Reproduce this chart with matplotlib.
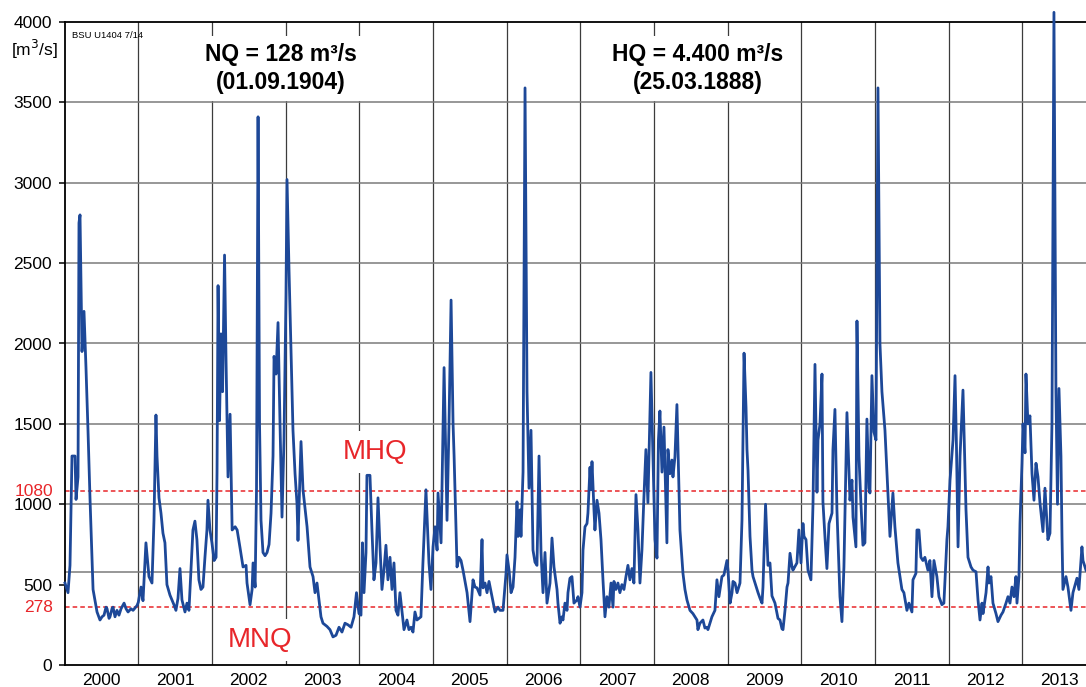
import matplotlib.pyplot as plt

plt.rcParams['font.family'] = ['Liberation Sans', 'DejaVu Sans']

# ---------------------------------------------------------------------------
# Data: discharge in m3/s, time in decimal years
# ---------------------------------------------------------------------------

years = list(range(2000, 2014))

t_2000 = [2000.005, 2000.046, 2000.073, 2000.100, 2000.141, 2000.155, 2000.182, 2000.195,
          2000.209, 2000.236, 2000.263, 2000.290, 2000.318, 2000.345, 2000.386, 2000.413,
          2000.440, 2000.480, 2000.508, 2000.535, 2000.562, 2000.576, 2000.603, 2000.616,
          2000.643, 2000.657, 2000.684, 2000.711, 2000.738, 2000.766, 2000.807, 2000.834,
          2000.861, 2000.901, 2000.929, 2000.956, 2000.983]
q_2000 = [510, 450, 620, 1300, 1300, 1030, 1170, 2750,
          2800, 1950, 2200, 1850, 1450, 1030, 470, 400,
          330, 280, 300, 310, 360, 350, 290, 300,
          350, 360, 300, 340, 310, 350, 385, 350,
          330, 350, 340, 355, 370]

t_2001 = [2001.000, 2001.037, 2001.064, 2001.104, 2001.145, 2001.186, 2001.213, 2001.240,
          2001.254, 2001.281, 2001.308, 2001.335, 2001.362, 2001.389, 2001.430, 2001.457,
          2001.484, 2001.511, 2001.539, 2001.566, 2001.593, 2001.634, 2001.661, 2001.688,
          2001.715, 2001.742, 2001.769, 2001.796, 2001.823, 2001.851, 2001.878, 2001.905,
          2001.932, 2001.946, 2001.973]
q_2001 = [390, 485, 400, 760, 550, 510, 900, 1555,
          1300, 1040, 945, 820, 760, 500, 435, 405,
          375, 340, 415, 600, 405, 330, 385, 340,
          590, 840, 895, 780, 530, 470, 485, 670,
          840, 1025, 840]

t_2002 = [2002.000, 2002.029, 2002.056, 2002.069, 2002.083, 2002.103, 2002.123, 2002.144,
          2002.171, 2002.191, 2002.218, 2002.246, 2002.274, 2002.315, 2002.342, 2002.381,
          2002.422, 2002.463, 2002.476, 2002.517, 2002.545, 2002.558, 2002.586, 2002.605,
          2002.626, 2002.646, 2002.666, 2002.693, 2002.721, 2002.748, 2002.775, 2002.802,
          2002.829, 2002.843, 2002.870, 2002.897, 2002.924, 2002.951, 2002.978]
q_2002 = [760, 650, 670, 1200, 2360, 1520, 2060, 1700,
          2550, 1900, 1170, 1560, 840, 860, 840, 730,
          610, 620, 510, 375, 470, 635, 485, 1100,
          3410, 1500, 900, 700, 680, 700, 750, 945,
          1300, 1920, 1810, 2130, 1500, 920, 1400]

t_2003 = [2003.005, 2003.019, 2003.046, 2003.073, 2003.100, 2003.128, 2003.155, 2003.168,
          2003.209, 2003.236, 2003.291, 2003.331, 2003.372, 2003.399, 2003.426, 2003.453,
          2003.480, 2003.507, 2003.562, 2003.602, 2003.643, 2003.684, 2003.725, 2003.765,
          2003.806, 2003.847, 2003.888, 2003.928, 2003.962, 2003.996]
q_2003 = [2300, 3020, 2460, 1950, 1460, 1190, 1000, 775,
          1390, 1090, 860, 610, 550, 450, 510, 405,
          300, 260, 240, 220, 175, 185, 235, 205,
          260, 250, 235, 300, 450, 320]

t_2004 = [2004.023, 2004.043, 2004.064, 2004.091, 2004.104, 2004.145, 2004.172, 2004.199,
          2004.227, 2004.254, 2004.281, 2004.308, 2004.335, 2004.362, 2004.389, 2004.417,
          2004.444, 2004.471, 2004.498, 2004.525, 2004.552, 2004.579, 2004.607, 2004.647,
          2004.674, 2004.702, 2004.729, 2004.756, 2004.783, 2004.810, 2004.837, 2004.864,
          2004.905, 2004.946, 2004.973]
q_2004 = [310, 760, 450, 700, 1180, 1180, 840, 530,
          635, 1040, 735, 470, 590, 745, 530, 670,
          470, 635, 340, 310, 450, 340, 220, 280,
          220, 235, 205, 330, 280, 290, 300, 635,
          1090, 635, 470]

t_2005 = [2005.001, 2005.028, 2005.056, 2005.069, 2005.096, 2005.110, 2005.151, 2005.191,
          2005.218, 2005.246, 2005.273, 2005.287, 2005.327, 2005.354, 2005.381, 2005.408,
          2005.463, 2005.503, 2005.544, 2005.571, 2005.598, 2005.639, 2005.666, 2005.680,
          2005.707, 2005.734, 2005.761, 2005.802, 2005.843, 2005.883, 2005.910, 2005.951,
          2005.992]
q_2005 = [735, 860, 715, 1070, 860, 760, 1850, 900,
          1500, 2270, 1500, 1300, 610, 670, 650, 590,
          450, 270, 530, 485, 480, 435, 780, 480,
          510, 450, 520, 425, 330, 360, 340, 340,
          570]

t_2006 = [2006.005, 2006.033, 2006.060, 2006.087, 2006.114, 2006.141, 2006.155, 2006.182,
          2006.195, 2006.223, 2006.250, 2006.277, 2006.304, 2006.331, 2006.358, 2006.385,
          2006.412, 2006.440, 2006.467, 2006.494, 2006.521, 2006.548, 2006.589, 2006.616,
          2006.643, 2006.684, 2006.697, 2006.725, 2006.752, 2006.765, 2006.792, 2006.820,
          2006.833, 2006.860, 2006.887, 2006.914, 2006.955, 2006.969, 2006.996]
q_2006 = [685, 590, 450, 485, 670, 1015, 800, 965,
          800, 1200, 3590, 1700, 1100, 1460, 715, 640,
          620, 1300, 700, 450, 700, 385, 510, 790,
          610, 470, 385, 260, 300, 280, 385, 340,
          450, 540, 550, 385, 405, 425, 360]

t_2007 = [2007.023, 2007.037, 2007.064, 2007.091, 2007.104, 2007.132, 2007.145, 2007.159,
          2007.186, 2007.199, 2007.227, 2007.254, 2007.281, 2007.308, 2007.335, 2007.362,
          2007.389, 2007.417, 2007.444, 2007.457, 2007.484, 2007.511, 2007.538, 2007.565,
          2007.593, 2007.620, 2007.647, 2007.674, 2007.701, 2007.728, 2007.756, 2007.783,
          2007.810, 2007.837, 2007.864, 2007.891, 2007.918, 2007.959, 2007.986]
q_2007 = [450, 715, 860, 880, 945, 1230, 1090, 1265,
          965, 840, 1025, 945, 780, 530, 300, 425,
          360, 510, 360, 520, 470, 510, 450, 500,
          470, 550, 620, 530, 600, 510, 1060, 840,
          510, 715, 1045, 1340, 1010, 1820, 1300]

t_2008 = [2008.014, 2008.041, 2008.061, 2008.081, 2008.109, 2008.136, 2008.176, 2008.190,
          2008.217, 2008.244, 2008.258, 2008.285, 2008.312, 2008.353, 2008.394, 2008.421,
          2008.448, 2008.489, 2008.529, 2008.584, 2008.597, 2008.624, 2008.665, 2008.692,
          2008.719, 2008.733, 2008.787, 2008.828, 2008.855, 2008.882, 2008.923, 2008.950,
          2008.991]
q_2008 = [780, 665, 1400, 1580, 1200, 1480, 760, 1340,
          1190, 1275, 1170, 1295, 1620, 840, 570, 470,
          405, 340, 320, 280, 220, 260, 280, 230,
          235, 220, 300, 340, 530, 425, 550, 560,
          650]

t_2009 = [2009.005, 2009.033, 2009.060, 2009.073, 2009.100, 2009.128, 2009.168, 2009.195,
          2009.223, 2009.250, 2009.263, 2009.277, 2009.304, 2009.331, 2009.345, 2009.372,
          2009.399, 2009.413, 2009.440, 2009.467, 2009.480, 2009.515, 2009.548, 2009.575,
          2009.602, 2009.643, 2009.684, 2009.711, 2009.738, 2009.752, 2009.779, 2009.806,
          2009.820, 2009.847, 2009.874, 2009.887, 2009.941, 2009.968, 2009.996]
q_2009 = [590, 385, 450, 520, 510, 450, 510, 900,
          1940, 1600, 1340, 1210, 800, 590, 550, 510,
          470, 450, 415, 385, 485, 1000, 620, 635,
          430, 385, 290, 280, 225, 220, 340, 485,
          510, 695, 610, 590, 635, 840, 635]

t_2010 = [2010.023, 2010.037, 2010.064, 2010.091, 2010.131, 2010.159, 2010.186, 2010.213,
          2010.227, 2010.254, 2010.281, 2010.294, 2010.321, 2010.348, 2010.376, 2010.417,
          2010.430, 2010.457, 2010.484, 2010.525, 2010.552, 2010.579, 2010.620, 2010.661,
          2010.688, 2010.702, 2010.742, 2010.756, 2010.783, 2010.810, 2010.837, 2010.864,
          2010.891, 2010.918, 2010.932, 2010.959, 2010.986]
q_2010 = [880, 800, 780, 590, 530, 1000, 1870, 1075,
          1400, 1500, 1810, 1015, 800, 600, 880, 945,
          1340, 1590, 965, 425, 270, 610, 1570, 1025,
          1150, 920, 735, 2140, 1300, 1000, 745, 760,
          1530, 1100, 1070, 1800, 1450]

t_2011 = [2011.014, 2011.041, 2011.068, 2011.095, 2011.136, 2011.176, 2011.204, 2011.244,
          2011.271, 2011.312, 2011.366, 2011.393, 2011.434, 2011.461, 2011.502, 2011.516,
          2011.556, 2011.570, 2011.597, 2011.624, 2011.651, 2011.678, 2011.719, 2011.746,
          2011.774, 2011.801, 2011.841, 2011.869, 2011.909, 2011.936, 2011.977, 2011.991]
q_2011 = [1400, 3590, 2000, 1700, 1460, 1070, 800, 1070,
          860, 635, 470, 450, 340, 385, 330, 530,
          570, 840, 840, 670, 650, 670, 590, 650,
          425, 650, 550, 425, 375, 385, 780, 860]

t_2012 = [2012.019, 2012.060, 2012.087, 2012.107, 2012.128, 2012.155, 2012.195, 2012.236,
          2012.263, 2012.304, 2012.331, 2012.372, 2012.399, 2012.426, 2012.453, 2012.467,
          2012.508, 2012.535, 2012.548, 2012.575, 2012.602, 2012.643, 2012.670, 2012.711,
          2012.738, 2012.779, 2012.806, 2012.833, 2012.860, 2012.887, 2012.914, 2012.928,
          2012.955, 2012.969, 2012.996]
q_2012 = [1150, 1400, 1800, 1350, 735, 1300, 1710, 965,
          670, 610, 590, 580, 405, 280, 385, 320,
          450, 610, 510, 550, 385, 320, 270, 310,
          330, 385, 425, 385, 485, 425, 550, 385,
          550, 880, 1255]

t_2013 = [2013.010, 2013.037, 2013.050, 2013.077, 2013.104, 2013.132, 2013.159, 2013.186,
          2013.213, 2013.240, 2013.281, 2013.308, 2013.348, 2013.376, 2013.403, 2013.430,
          2013.457, 2013.478, 2013.498, 2013.525, 2013.539, 2013.552, 2013.593, 2013.620,
          2013.661, 2013.688, 2013.742, 2013.769, 2013.810, 2013.824, 2013.865]
q_2013 = [1500, 1320, 1810, 1500, 1550, 1190, 1025, 1255,
          1170, 1010, 830, 1100, 780, 820, 1500, 4060,
          1700, 1000, 1720, 1300, 800, 470, 550, 485,
          340, 450, 540, 470, 735, 650, 590]

t_all = (t_2000 + t_2001 + t_2002 + t_2003 + t_2004 + t_2005 + t_2006
         + t_2007 + t_2008 + t_2009 + t_2010 + t_2011 + t_2012 + t_2013)
q_all = (q_2000 + q_2001 + q_2002 + q_2003 + q_2004 + q_2005 + q_2006
         + q_2007 + q_2008 + q_2009 + q_2010 + q_2011 + q_2012 + q_2013)

y_ticks = [0, 500, 1000, 1500, 2000, 2500, 3000, 3500, 4000]
mhq, mnq = 1080, 278
# the source chart draws the 500 grid line and the MNQ line ~80 m3/s too high
low_shift = 80

# ---------------------------------------------------------------------------
# Plot
# ---------------------------------------------------------------------------

blue = '#1d4898'
red = '#e8262a'

fig = plt.figure(figsize=(10.86, 6.87), dpi=100)
ax = fig.add_axes([0.0595, 0.032, 0.9405, 0.936])

ax.set_xlim(2000, 2013.865)
ax.set_ylim(0, 4000)

# grid
for yr in years[1:]:
    ax.axvline(yr, color='#3c3c3c', lw=0.9, zorder=1)
for v in y_ticks[1:-1]:
    ax.axhline(v + (low_shift if v == 500 else 0), color='#7a7a7a', lw=1.1, zorder=1.5)

# mean flood / mean low water
ax.axhline(mhq, color=red, lw=1.1, ls=(0, (3, 2)), zorder=2.5)
ax.axhline(mnq + low_shift, color=red, lw=1.1, ls=(0, (3, 2)), zorder=2.5)

ax.plot(t_all, q_all, color=blue, lw=2.0, zorder=3, clip_on=False,
        solid_joinstyle='round')

# axes styling
for s in ['top', 'left', 'bottom']:
    ax.spines[s].set_linewidth(1.3)
    ax.spines[s].set_color('black')
ax.spines['right'].set_visible(False)

ax.set_yticks(y_ticks)
ax.set_yticklabels([str(v) for v in y_ticks], fontsize=12.5)
ax.tick_params(axis='y', length=4, width=1.1, pad=5)

ax.set_xticks(years[1:])
ax.set_xticklabels([])
ax.set_xticks([y + 0.5 for y in years], minor=True)
ax.set_xticklabels([str(y) for y in years], minor=True, fontsize=12.5)
ax.tick_params(axis='x', which='both', length=0, pad=6)

ytr = ax.get_yaxis_transform()
ax.text(-0.0114, mhq, str(mhq), transform=ytr, ha='right', va='center',
        color=red, fontsize=12.5)
ax.text(-0.0114, mnq + low_shift, str(mnq), transform=ytr, ha='right', va='center',
        color=red, fontsize=12.5)
ax.text(-0.0065, 3830, '[m$^3$/s]', transform=ytr, ha='right', va='center',
        fontsize=12.5)

ax.text(2000.10, 3915, 'BSU U1404 7/14', ha='left', va='center', fontsize=6.8)

# text boxes sit above the vertical grid but below the horizontal grid lines
box = dict(boxstyle='square,pad=0.3', fc='white', ec='none')
ax.text(2002.937, 3712, 'NQ = 128 m³/s\n(01.09.1904)', ha='center', va='center',
        fontsize=16.5, fontweight='bold', linespacing=1.28, bbox=box, zorder=1.2)
ax.text(2008.595, 3712, 'HQ = 4.400 m³/s\n(25.03.1888)', ha='center', va='center',
        fontsize=16.5, fontweight='bold', linespacing=1.28, bbox=box, zorder=1.2)
ax.text(2004.212, 1325, 'MHQ', ha='center', va='center', color=red,
        fontsize=20, bbox=dict(boxstyle='square,pad=0.3', fc='white', ec='none'), zorder=1.2)
ax.text(2002.651, 155, 'MNQ', ha='center', va='center', color=red,
        fontsize=20, bbox=dict(boxstyle='square,pad=0.3', fc='white', ec='none'), zorder=1.2)

fig.savefig('out.png', dpi=100, facecolor='white')
